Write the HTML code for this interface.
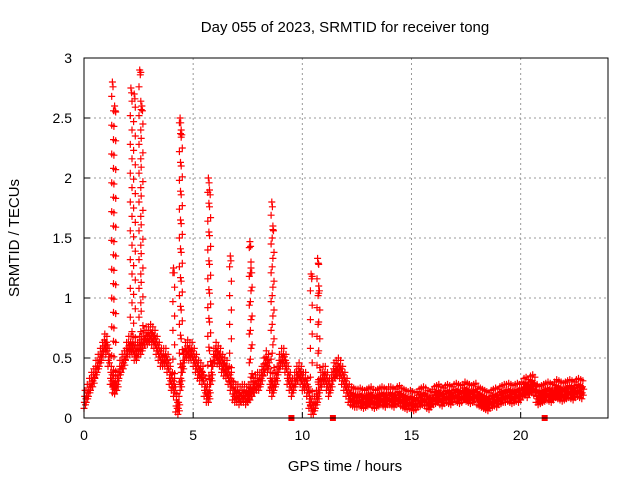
<!DOCTYPE html>
<html><head><meta charset="utf-8"><style>
body{margin:0;background:#fff}
svg{display:block;font-family:"Liberation Sans",sans-serif}
</style></head><body>
<svg id="chart" width="640" height="480" viewBox="0 0 640 480">
<text x="345" y="32" text-anchor="middle" font-size="15">Day 055 of 2023, SRMTID for receiver tong</text>
<text x="345" y="471" text-anchor="middle" font-size="15">GPS time / hours</text>
<text transform="translate(19,238) rotate(-90)" text-anchor="middle" font-size="15">SRMTID / TECUs</text>
<g id="grid"></g>
<g id="marks"></g>
<rect x="84" y="58" width="524" height="360" fill="none" stroke="#000" stroke-width="1"/>
<g id="ticks"></g>
</svg>
<script>
const xTicks=[0,5,10,15,20];
const yTicks=[0,0.5,1,1.5,2,2.5,3];
const yTickLabels=["0","0.5","1","1.5","2","2.5","3"];
// baseline values every 0.1 h starting at 0
const baseline=[0.15,0.2,0.25,0.3,0.33,0.4,0.45,0.5,0.55,0.62,0.6,0.5,0.35,0.28,0.27,0.3,0.4,0.45,0.48,0.55,
0.6,0.6,0.6,0.55,0.55,0.6,0.6,0.65,0.68,0.68,0.7,0.68,0.65,0.6,0.55,0.5,0.5,0.5,0.45,0.35,
0.3,0.25,0.12,0.1,0.3,0.45,0.55,0.57,0.55,0.55,0.5,0.45,0.4,0.38,0.35,0.25,0.2,0.2,0.35,0.5,
0.55,0.52,0.5,0.45,0.42,0.4,0.35,0.3,0.22,0.2,0.2,0.18,0.2,0.2,0.18,0.2,0.22,0.25,0.28,0.3,
0.3,0.35,0.42,0.48,0.45,0.3,0.25,0.3,0.35,0.45,0.5,0.5,0.45,0.35,0.3,0.25,0.3,0.35,0.38,0.35,
0.3,0.3,0.25,0.15,0.1,0.1,0.15,0.2,0.3,0.35,0.35,0.3,0.25,0.3,0.38,0.4,0.42,0.4,0.35,0.3,
0.25,0.2,0.18,0.17,0.16,0.16,0.17,0.16,0.15,0.16,0.17,0.18,0.16,0.15,0.16,0.17,0.18,0.17,0.16,0.18,
0.18,0.17,0.16,0.18,0.19,0.17,0.16,0.15,0.14,0.15,0.14,0.13,0.14,0.16,0.17,0.18,0.17,0.15,0.14,0.16,
0.18,0.19,0.2,0.18,0.17,0.19,0.2,0.19,0.18,0.2,0.21,0.2,0.19,0.2,0.22,0.21,0.2,0.19,0.2,0.21,
0.18,0.17,0.16,0.15,0.14,0.13,0.15,0.16,0.17,0.16,0.18,0.19,0.2,0.2,0.21,0.2,0.19,0.2,0.21,0.2,
0.22,0.25,0.26,0.24,0.27,0.28,0.26,0.2,0.18,0.19,0.2,0.21,0.22,0.21,0.2,0.22,0.24,0.23,0.22,0.21,
0.22,0.23,0.24,0.23,0.22,0.24,0.25,0.24,0.23];
const spikeTimes=[1.3,1.4,2.15,2.3,2.55,2.65,4.1,4.4,4.45,5.7,5.75,6.7,7.6,7.65,8.6,8.65,10.4,10.7,10.75];
const spikePeaks=[2.8,2.6,2.75,2.7,2.9,2.6,1.25,2.5,2.4,2.0,1.9,1.35,1.47,1.25,1.8,1.6,1.2,1.33,1.1];
const markerTimes=[9.5,11.4,21.1];
const bandOffsets=[-0.07,-0.02,0.03,0.08,-0.04,0.01];
const NS="http://www.w3.org/2000/svg";
const X0=84,X1=608,Y0=418,Y1=58;
const xs=t=>X0+(t/24)*(X1-X0);
const ys=v=>Y0-(v/3)*(Y0-Y1);
function mk(tag,attrs,parent){const e=document.createElementNS(NS,tag);for(const k in attrs)e.setAttribute(k,attrs[k]);parent.appendChild(e);return e;}
const grid=document.getElementById('grid'),ticks=document.getElementById('ticks'),marks=document.getElementById('marks');
xTicks.forEach(t=>{
  if(t>0){const l=mk('line',{x1:xs(t),x2:xs(t),y1:Y1,y2:Y0,stroke:'#999','stroke-dasharray':'2,3'},grid);
  
  }
  const tk=mk('line',{x1:xs(t),x2:xs(t),y1:Y0,y2:Y0-6,stroke:'#000'},ticks);
  
  
  const tx=mk('text',{x:xs(t),y:Y0+22,'text-anchor':'middle','font-size':'14'},ticks);tx.textContent=String(t);
  
  
});
yTicks.forEach((v,i)=>{
  if(v>0){const l=mk('line',{x1:X0,x2:X1,y1:ys(v),y2:ys(v),stroke:'#999','stroke-dasharray':'2,3'},grid);
  
  }
  const tk=mk('line',{x1:X0,x2:X0+6,y1:ys(v),y2:ys(v),stroke:'#000'},ticks);
  
  
  const tx=mk('text',{x:X0-12,y:ys(v)+5,'text-anchor':'end','font-size':'14'},ticks);tx.textContent=yTickLabels[i];
  
  
});
let d='';
function plus(t,v){const x=xs(t),y=ys(v);d+=`M${(x-3.5).toFixed(1)} ${y.toFixed(1)}h7M${x.toFixed(1)} ${(y-3.5).toFixed(1)}v7`;}
baseline.forEach((v,i)=>{
  const t=i*0.1;
  bandOffsets.forEach((o,j)=>{plus(t+j*0.017,Math.max(0.02,v+o));});
});
spikeTimes.forEach((t,i)=>{
  const p=spikePeaks[i];const b=baseline[Math.round(t*10)]||0.3;
  let k=0;
  for(let v=b;v<=p;v+=0.12){plus(t+(k%2?0.05:-0.03),v);k++;}
  plus(t,p);plus(t+0.03,p-0.04);
});
const path=mk('path',{d:d,stroke:'#f00','stroke-width':'1.2',fill:'none'},marks);


markerTimes.forEach(t=>{
  const r=mk('rect',{x:xs(t)-3,y:Y0-3,width:6,height:6,fill:'#f00'},marks);
  
  
});
</script>
</body></html>
